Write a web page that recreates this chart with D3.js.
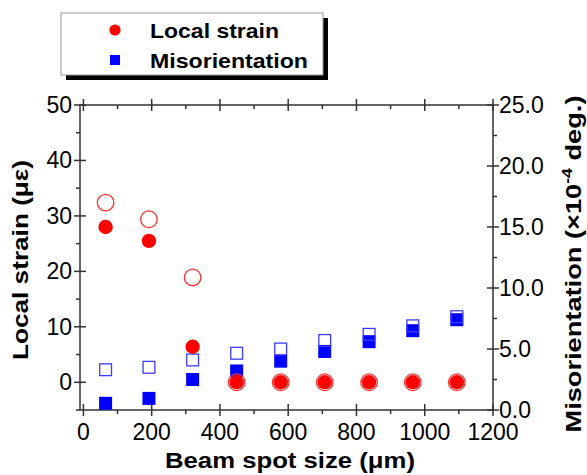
<!DOCTYPE html>
<html>
<head>
<meta charset="utf-8">
<script src="https://cdn.jsdelivr.net/npm/d3@7"></script>
<style>
  body { margin: 0; background: #fff; }
  text { font-family: "Liberation Sans", Arial, sans-serif; }
</style>
</head>
<body>
<script>
// beam spot size (um)
const spotSize = [65, 192, 320, 449, 578, 707, 837, 965, 1094];
// local strain (micro-strain), filled and open circles
const strainFilled = [28.0, 25.5, 6.4, 0, 0, 0, 0, 0, 0];
const strainOpen = [32.4, 29.4, 18.9, 0, 0, 0, 0, 0, 0];
// misorientation (x10^-4 deg.), filled and open squares
const misoFilled = [0.55, 0.95, 2.5, 3.2, 4.0, 4.8, 5.6, 6.5, 7.4];
const misoOpen = [3.3, 3.5, 4.1, 4.65, 5.0, 5.7, 6.2, 6.9, 7.65];

const xTicks = [0, 200, 400, 600, 800, 1000, 1200];
const xMinor = [100, 300, 500, 700, 900, 1100];
const leftTicks = [0, 10, 20, 30, 40, 50];
const leftMinor = [-5, 5, 15, 25, 35, 45];
const rightTicks = [0, 5, 10, 15, 20, 25];
const rightMinor = [2.5, 7.5, 12.5, 17.5, 22.5];

const W = 587, H = 475;
const plot = {left: 80, right: 493, top: 105, bottom: 410};

const svg = d3.select("body").append("svg")
    .attr("width", W)
    .attr("height", H);

const x = d3.scaleLinear().domain([-10, 1200]).range([plot.left, plot.right]);
const yL = d3.scaleLinear().domain([-5, 50]).range([plot.bottom, plot.top]);
const yR = d3.scaleLinear().domain([0, 25]).range([plot.bottom, plot.top]);

const axisColor = "#333";

// frame
svg.append("rect")
    .attr("x", plot.left).attr("y", plot.top)
    .attr("width", plot.right - plot.left)
    .attr("height", plot.bottom - plot.top)
    .attr("fill", "none")
    .attr("stroke", axisColor)
    .attr("stroke-width", 1.5);

const ticks = svg.append("g")
    .attr("stroke", axisColor)
    .attr("stroke-width", 1.5);

// bottom axis: major crossing, minor outward
ticks.selectAll(null).data(xTicks).enter().append("line")
    .attr("x1", d => x(d)).attr("x2", d => x(d))
    .attr("y1", plot.bottom - 6).attr("y2", plot.bottom + 6);
ticks.selectAll(null).data(xMinor).enter().append("line")
    .attr("x1", d => x(d)).attr("x2", d => x(d))
    .attr("y1", plot.bottom).attr("y2", plot.bottom + 4);
// top axis: major crossing, minor inward
ticks.selectAll(null).data(xTicks).enter().append("line")
    .attr("x1", d => x(d)).attr("x2", d => x(d))
    .attr("y1", plot.top - 6).attr("y2", plot.top + 6);
ticks.selectAll(null).data(xMinor).enter().append("line")
    .attr("x1", d => x(d)).attr("x2", d => x(d))
    .attr("y1", plot.top).attr("y2", plot.top + 4);
// left axis
ticks.selectAll(null).data(leftTicks).enter().append("line")
    .attr("y1", d => yL(d)).attr("y2", d => yL(d))
    .attr("x1", plot.left - 6).attr("x2", plot.left + 6);
ticks.selectAll(null).data(leftMinor).enter().append("line")
    .attr("y1", d => yL(d)).attr("y2", d => yL(d))
    .attr("x1", plot.left - 4).attr("x2", plot.left);
// right axis
ticks.selectAll(null).data(rightTicks).enter().append("line")
    .attr("y1", d => yR(d)).attr("y2", d => yR(d))
    .attr("x1", plot.right - 6).attr("x2", plot.right + 6);
ticks.selectAll(null).data(rightMinor).enter().append("line")
    .attr("y1", d => yR(d)).attr("y2", d => yR(d))
    .attr("x1", plot.right).attr("x2", plot.right + 4);

// tick labels
svg.selectAll(".xl").data(xTicks).enter().append("text")
    .attr("x", d => x(d)).attr("y", 440)
    .attr("text-anchor", "middle")
    .attr("font-size", 23)
    .text(d => d);
svg.selectAll(".yl").data(leftTicks).enter().append("text")
    .attr("x", 72).attr("y", d => yL(d) + 8)
    .attr("text-anchor", "end")
    .attr("font-size", 23)
    .text(d => d);
svg.selectAll(".yr").data(rightTicks).enter().append("text")
    .attr("x", 499).attr("y", d => yR(d) + 8)
    .attr("font-size", 23)
    .text(d => d.toFixed(1));

// axis titles
svg.append("text")
    .attr("x", 290).attr("y", 468)
    .attr("text-anchor", "middle")
    .attr("font-size", 21.5).attr("font-weight", "bold")
    .attr("textLength", 250).attr("lengthAdjust", "spacingAndGlyphs")
    .text("Beam spot size (μm)");

svg.append("text")
    .attr("transform", "translate(28,260) rotate(-90)")
    .attr("text-anchor", "middle")
    .attr("font-size", 21.5).attr("font-weight", "bold")
    .attr("textLength", 200).attr("lengthAdjust", "spacingAndGlyphs")
    .text("Local strain (με)");

const rt = svg.append("text")
    .attr("transform", "translate(581,264) rotate(-90)")
    .attr("text-anchor", "middle")
    .attr("font-size", 21.5).attr("font-weight", "bold")
    .attr("textLength", 337).attr("lengthAdjust", "spacingAndGlyphs");
rt.append("tspan").text("Misorientation (×10");
rt.append("tspan").attr("dy", -9).attr("font-size", 14).text("-4");
rt.append("tspan").attr("dy", 9).text(" deg.)");

// data marks
const g = svg.append("g");
const sq = 13;

g.selectAll(".mf").data(spotSize).enter().append("rect")
    .attr("x", d => x(d) - sq / 2)
    .attr("y", (d, i) => yR(misoFilled[i]) - sq / 2)
    .attr("width", sq).attr("height", sq)
    .attr("fill", "#0000ff");

g.selectAll(".mo").data(spotSize).enter().append("rect")
    .attr("x", d => x(d) - sq / 2 + 0.6)
    .attr("y", (d, i) => yR(misoOpen[i]) - sq / 2 + 0.6)
    .attr("width", sq - 1.2).attr("height", sq - 1.2)
    .attr("fill", "none")
    .attr("stroke", "#3c3cff")
    .attr("stroke-width", 1.3);

g.selectAll(".sf").data(spotSize).enter().append("circle")
    .attr("cx", d => x(d))
    .attr("cy", (d, i) => yL(strainFilled[i]))
    .attr("r", 7.2)
    .attr("fill", "#ff0000");

g.selectAll(".so").data(spotSize).enter().append("circle")
    .attr("cx", d => x(d))
    .attr("cy", (d, i) => yL(strainOpen[i]))
    .attr("r", 8.3)
    .attr("fill", "none")
    .attr("stroke", "#ff3030")
    .attr("stroke-width", 1.3);

// legend
const lg = svg.append("g");
lg.append("rect")
    .attr("x", 66).attr("y", 18)
    .attr("width", 262).attr("height", 62)
    .attr("fill", "#000");
lg.append("rect")
    .attr("x", 61).attr("y", 13)
    .attr("width", 262).attr("height", 62)
    .attr("fill", "#fff")
    .attr("stroke", "#999")
    .attr("stroke-width", 1);
lg.append("circle")
    .attr("cx", 115).attr("cy", 30).attr("r", 5.6)
    .attr("fill", "#ff0000");
lg.append("rect")
    .attr("x", 110).attr("y", 55).attr("width", 10).attr("height", 10)
    .attr("fill", "#0000ff");
lg.append("text")
    .attr("x", 150).attr("y", 38)
    .attr("font-size", 21).attr("font-weight", "bold")
    .attr("textLength", 129).attr("lengthAdjust", "spacingAndGlyphs")
    .text("Local strain");
lg.append("text")
    .attr("x", 150).attr("y", 68)
    .attr("font-size", 21).attr("font-weight", "bold")
    .attr("textLength", 158).attr("lengthAdjust", "spacingAndGlyphs")
    .text("Misorientation");
</script>
</body>
</html>
